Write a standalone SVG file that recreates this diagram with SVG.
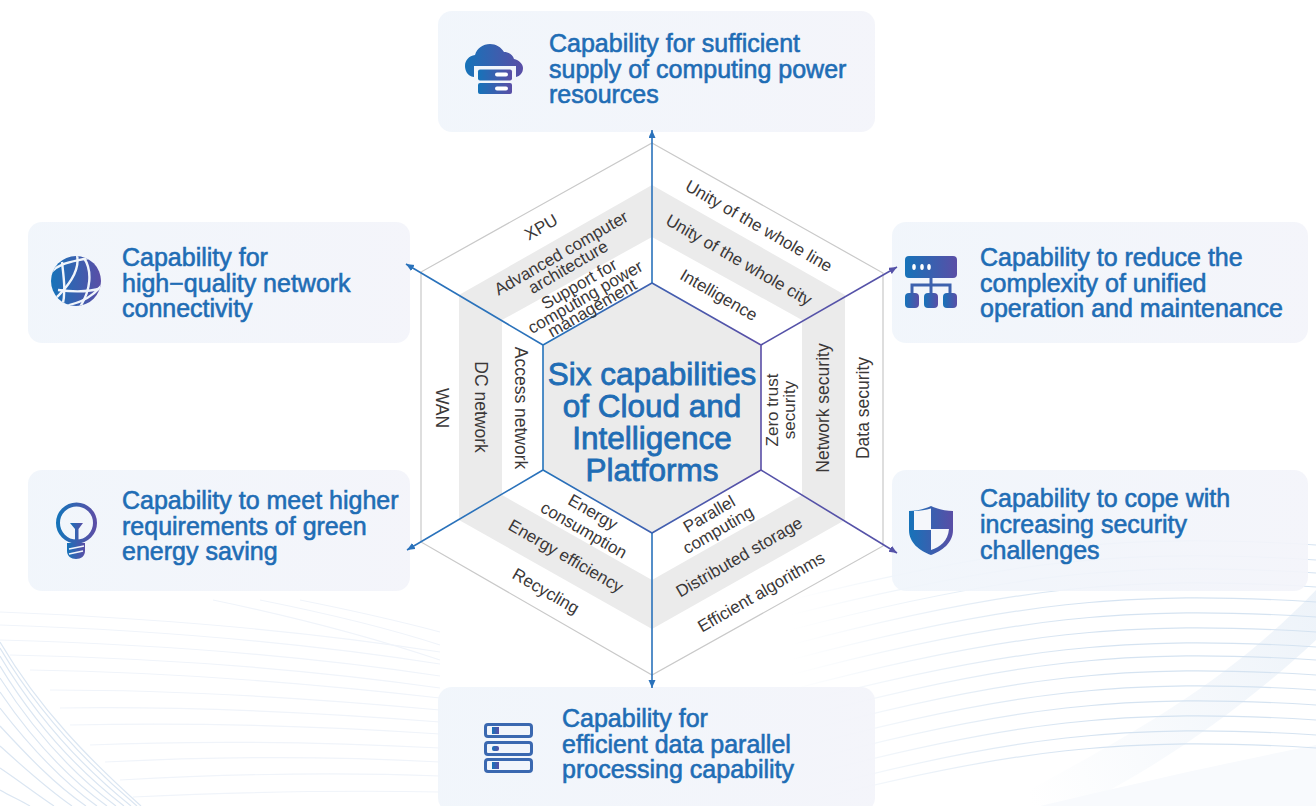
<svg xmlns="http://www.w3.org/2000/svg" width="1316" height="806" viewBox="0 0 1316 806">
<defs>
<linearGradient id="ig" x1="0" y1="0" x2="1" y2="0"><stop offset="0" stop-color="#1673b9"/><stop offset="1" stop-color="#5a4ea6"/></linearGradient>
<linearGradient id="card" x1="0" y1="0" x2="1" y2="0"><stop offset="0" stop-color="#f0f5fb" stop-opacity=".92"/><stop offset="1" stop-color="#f3f4fa" stop-opacity=".92"/></linearGradient>
<linearGradient id="hexline" gradientUnits="userSpaceOnUse" x1="543" y1="0" x2="761" y2="0"><stop offset="0" stop-color="#2473bb"/><stop offset="1" stop-color="#5a4ea6"/></linearGradient>
<linearGradient id="rw" gradientUnits="userSpaceOnUse" x1="790" y1="0" x2="1080" y2="0"><stop offset="0" stop-color="#d5e3f1" stop-opacity="0"/><stop offset="1" stop-color="#d5e3f1"/></linearGradient>
<linearGradient id="band" gradientUnits="userSpaceOnUse" x1="1000" y1="720" x2="1316" y2="600"><stop offset="0" stop-color="#e6eef7" stop-opacity="0"/><stop offset="1" stop-color="#e6eef7" stop-opacity=".7"/></linearGradient>
<marker id="ab" markerUnits="userSpaceOnUse" markerWidth="9" markerHeight="8" refX="8" refY="3.500" orient="auto"><path d="M0,0 L8,3.500 L0,7 Z" fill="#2a72bb"/></marker>
<marker id="ap" markerUnits="userSpaceOnUse" markerWidth="9" markerHeight="8" refX="8" refY="3.500" orient="auto"><path d="M0,0 L8,3.500 L0,7 Z" fill="#5552a8"/></marker>
<clipPath id="gc"><circle cx="76" cy="281" r="25"/></clipPath>
<style>
.c{fill:url(#card)}
.t{font-family:"Liberation Sans",Arial,sans-serif;font-size:25px;fill:#1f6db5;stroke:#1f6db5;stroke-width:.6px}
.h{font-family:"Liberation Sans",Arial,sans-serif;font-size:31.500px;fill:#1f6db5;stroke:#1f6db5;stroke-width:.8px;text-anchor:middle}
.l{font-family:"Liberation Sans",Arial,sans-serif;font-size:17px;fill:#3b3838;text-anchor:middle}
.v{font-size:17.500px}
.w{fill:none;stroke:#dbe6f2;stroke-width:1.2}
.wf{fill:none;stroke:#f0f4fa;stroke-width:1.2}
.wr{fill:none;stroke:url(#rw);stroke-width:1.2}
.sp{fill:none;stroke-width:1.6}
.b{stroke:#2a72bb;marker-end:url(#ab)}
.p{stroke:#5552a8;marker-end:url(#ap)}
.i{fill:url(#ig)}
</style>
</defs>
<rect width="1316" height="806" fill="#ffffff"/>
<g id="background">
<path d="M1000,806 C1120,740 1220,690 1316,590 L1316,640 C1230,720 1150,770 1080,806 Z" fill="url(#band)"/>
<path d="M1040,806 C1150,780 1240,760 1316,745 L1316,806 Z" fill="#f8fafd"/>
<path class="wf" d="M0,612 C150,618 300,630 440,652"/><path class="wf" d="M0,625 C150,630 300,642 440,664"/><path class="wf" d="M0,640 C150,644 300,655 440,676"/><path class="wf" d="M10,655 C150,658 300,668 440,688"/><path class="wf" d="M30,670 C160,672 300,682 440,698"/><path class="wf" d="M50,690 C180,690 310,698 440,710"/><path class="wf" d="M60,708 C190,706 310,712 440,722"/><path class="wf" d="M70,725 C200,722 320,726 440,734"/><path class="wf" d="M90,745 C210,740 320,742 440,748"/><path class="wf" d="M105,762 C220,756 330,756 440,762"/><path class="wf" d="M120,780 C230,774 340,772 440,776"/><path class="wf" d="M133,797 C240,792 340,790 440,792"/>
<path class="wf" d="M213,600 C300,618 380,640 440,660"/><path class="wf" d="M260,600 C340,616 400,632 440,645"/><path class="wf" d="M300,600 C360,612 410,624 440,632"/>
<path class="w" d="M0,642 C40,710 90,760 141,806"/><path class="w" d="M0,648 C38,712 85,762 137,806"/><path class="w" d="M0,656 C36,716 80,765 131,806"/><path class="w" d="M0,666 C34,722 75,768 124,806"/><path class="w" d="M0,678 C32,728 70,772 116,806"/><path class="w" d="M0,692 C30,736 65,776 107,806"/><path class="w" d="M0,708 C28,744 60,780 97,806"/><path class="w" d="M0,726 C26,754 54,784 86,806"/><path class="w" d="M0,746 C22,766 46,788 72,806"/><path class="w" d="M0,768 C18,780 36,794 54,806"/><path class="w" d="M0,790 C10,796 20,800 30,806"/>
<path class="wr" d="M790,600 C1010,545 1130,533 1316,545"/><path class="wr" d="M790,615 C1010,560 1130,548 1316,560"/><path class="wr" d="M790,630 C1010,573 1130,561 1316,573"/><path class="wr" d="M790,645 C1010,587 1130,575 1316,587"/><path class="wr" d="M790,660 C1010,602 1130,590 1316,602"/><path class="wr" d="M790,675 C1010,617 1130,605 1316,617"/><path class="wr" d="M790,690 C1010,632 1130,620 1316,632"/><path class="wr" d="M790,705 C1010,647 1130,635 1316,647"/><path class="wr" d="M790,720 C1010,660 1130,648 1316,660"/><path class="wr" d="M790,735 C1010,675 1130,663 1316,675"/><path class="wr" d="M790,750 C1010,690 1130,678 1316,690"/><path class="wr" d="M790,765 C1010,705 1130,693 1316,705"/><path class="wr" d="M790,780 C1010,720 1130,708 1316,720"/><path class="wr" d="M790,795 C1010,735 1130,723 1316,735"/><path class="wr" d="M790,806 C1010,748 1130,736 1316,748"/>
</g>
<g id="node-top">
<rect class="c" x="438" y="11" width="437" height="121" rx="14"/>
<path class="i" d="M474,77 C467,76 465,70 465,66 C465,60 469,56 475,55 C477,48 483,44 490,44 C496,44 501,47 504,52 C509,52 513,55 514,59 C519,60 523,64 523,68 C523,73 520,76 516,77 L516,66 L474,66 Z"/>
<rect class="i" x="478" y="69.500" width="34" height="11" rx="2"/>
<rect class="i" x="478" y="83" width="34" height="11" rx="2"/>
<rect x="495" y="72.500" width="13" height="4" rx="2" fill="#fff"/>
<rect x="495" y="86.500" width="13" height="4" rx="2" fill="#fff"/>
<text class="t" x="549" y="52">Capability for sufficient</text>
<text class="t" x="549" y="78">supply of computing power</text>
<text class="t" x="549" y="103">resources</text>
</g>
<g id="node-upper-left">
<rect class="c" x="28" y="222" width="382" height="121" rx="14"/>
<circle class="i" cx="76" cy="281" r="25"/>
<g clip-path="url(#gc)" fill="none" stroke="#f0f5fb" stroke-width="2.400">
<path d="M49,274 C60,262 72,262 88,258"/>
<path d="M54,300 C70,285 82,268 76,252"/>
<path d="M62,262 C64,280 66,292 62,308"/>
<path d="M84,258 C92,270 92,290 78,310"/>
<path d="M58,290 C74,292 92,292 104,287"/>
<path d="M54,307 C72,306 92,300 104,282"/>
</g>
<text class="t" x="122" y="266">Capability for</text>
<text class="t" x="122" y="292">high−quality network</text>
<text class="t" x="122" y="317">connectivity</text>
</g>
<g id="node-upper-right">
<rect class="c" x="892" y="222" width="416" height="121" rx="14"/>
<rect class="i" x="905" y="256" width="52" height="22" rx="4"/>
<g fill="#fff"><ellipse cx="914" cy="267" rx="1.800" ry="3"/><ellipse cx="922" cy="267" rx="1.800" ry="3"/><ellipse cx="929" cy="267" rx="1.800" ry="3"/></g>
<path d="M931,278 V293 M912,293 V285 H950 V293" fill="none" stroke="#3d62ae" stroke-width="3"/>
<rect class="i" x="905" y="293" width="14" height="15" rx="4"/>
<rect class="i" x="924" y="293" width="14" height="15" rx="4"/>
<rect class="i" x="943" y="293" width="14" height="15" rx="4"/>
<text class="t" x="980" y="266">Capability to reduce the</text>
<text class="t" x="980" y="292">complexity of unified</text>
<text class="t" x="980" y="317">operation and maintenance</text>
</g>
<g id="node-lower-right">
<rect class="c" x="892" y="470" width="416" height="121" rx="14"/>
<path class="i" d="M909,511 C916,511 925,509 931,506 C937,509 946,511 953,511 V530 C953,543 942,551 931,555 C920,551 909,543 909,530 Z"/>
<path d="M914,511 C920,511 926,510 931,508.500 V530 H914 Z M931,529 H949 C948,541 940,547 931,550 Z" fill="#f5f7fb"/>
<text class="t" x="980" y="507">Capability to cope with</text>
<text class="t" x="980" y="533">increasing security</text>
<text class="t" x="980" y="559">challenges</text>
</g>
<g id="node-lower-left">
<rect class="c" x="28" y="470" width="382" height="121" rx="14"/>
<circle cx="76.500" cy="523" r="18.500" fill="none" stroke="url(#ig)" stroke-width="4"/>
<path class="i" d="M70,523 H83 L78.500,529 V543 H75 V529 Z"/>
<path class="i" d="M67,543 H85 V551 C85,556 81,559 76,559 C71,559 67,556 67,551 Z"/>
<path d="M69,549 L84,546 M69,554 L83,551" stroke="#f2f5fb" stroke-width="1.500" fill="none"/>
<text class="t" x="122" y="509">Capability to meet higher</text>
<text class="t" x="122" y="535">requirements of green</text>
<text class="t" x="122" y="560">energy saving</text>
</g>
<g id="node-bottom">
<rect class="c" x="438" y="687" width="437" height="125" rx="14"/>
<g fill="#f1f5fb" stroke="#3a68b0" stroke-width="3">
<rect x="485.500" y="724.500" width="46" height="12" rx="2.500"/>
<rect x="485.500" y="742.500" width="46" height="12" rx="2.500"/>
<rect x="485.500" y="759.500" width="46" height="12" rx="2.500"/>
</g>
<rect class="i" x="492" y="727" width="7" height="7"/>
<rect class="i" x="492" y="746" width="7" height="5" rx="2"/>
<rect class="i" x="492" y="762" width="7" height="7"/>
<text class="t" x="562" y="727">Capability for</text>
<text class="t" x="562" y="753">efficient data parallel</text>
<text class="t" x="562" y="778">processing capability</text>
</g>
<g id="hexagon">
<polygon points="652,143 883,273 883,546 652,675 421,542 421,272" fill="#ffffff" stroke="#c9c9c9" stroke-width="1.2"/>
<polygon points="652,185 845,295 845,520 652,629 459,520 459,295" fill="#ebebeb"/>
<polygon points="652,237 802,320 802,495 652,580 502,495 502,320" fill="#ffffff"/>
<polygon points="652,283 761,345 761,470 652,533 543,470 543,345" fill="#ebebeb" stroke="url(#hexline)" stroke-width="1.6"/>
</g>
<g id="connectors">
<line class="sp b" x1="652" y1="283" x2="652" y2="130"/>
<line class="sp b" x1="652" y1="533" x2="652" y2="688"/>
<line class="sp b" x1="543" y1="345" x2="406" y2="264"/>
<line class="sp b" x1="543" y1="470" x2="407" y2="550"/>
<line class="sp p" x1="761" y1="345" x2="897" y2="267"/>
<line class="sp p" x1="761" y1="470" x2="897" y2="553"/>
</g>
<g id="center-label">
<text class="h" x="652" y="385">Six capabilities</text>
<text class="h" x="652" y="417">of Cloud and</text>
<text class="h" x="652" y="449">Intelligence</text>
<text class="h" x="652" y="481">Platforms</text>
</g>
<g id="hex-labels">
<text class="l" transform="translate(544,232) rotate(-30)">XPU</text>
<text class="l" transform="translate(564,258) rotate(-30)">Advanced computer</text>
<text class="l" transform="translate(571,272) rotate(-30)">architecture</text>
<text class="l" transform="translate(582,289) rotate(-30)">Support for</text>
<text class="l" transform="translate(588,302) rotate(-30)">computing power</text>
<text class="l" transform="translate(595,313) rotate(-30)">management</text>
<text class="l" transform="translate(756,231) rotate(30)">Unity of the whole line</text>
<text class="l" transform="translate(736,265) rotate(30)">Unity of the whole city</text>
<text class="l" transform="translate(716,300) rotate(30)">Intelligence</text>
<text class="l" transform="translate(590,517) rotate(30)">Energy</text>
<text class="l" transform="translate(581,535) rotate(30)">consumption</text>
<text class="l" transform="translate(563,561) rotate(30)">Energy efficiency</text>
<text class="l" transform="translate(543,596) rotate(30)">Recycling</text>
<text class="l" transform="translate(712,519) rotate(-30)">Parallel</text>
<text class="l" transform="translate(721,535) rotate(-30)">computing</text>
<text class="l" transform="translate(742,562) rotate(-30)">Distributed storage</text>
<text class="l" transform="translate(764,597) rotate(-30)">Efficient algorithms</text>
<text class="l v" transform="translate(436,408) rotate(90)">WAN</text>
<text class="l v" transform="translate(475,407) rotate(90)">DC network</text>
<text class="l v" transform="translate(515,408) rotate(90)">Access network</text>
<text class="l v" transform="translate(869,408) rotate(-90)">Data security</text>
<text class="l v" transform="translate(829,408) rotate(-90)">Network security</text>
<text class="l" transform="translate(778,410) rotate(-90)">Zero trust</text>
<text class="l" transform="translate(795,410) rotate(-90)">security</text>
</g>
</svg>
